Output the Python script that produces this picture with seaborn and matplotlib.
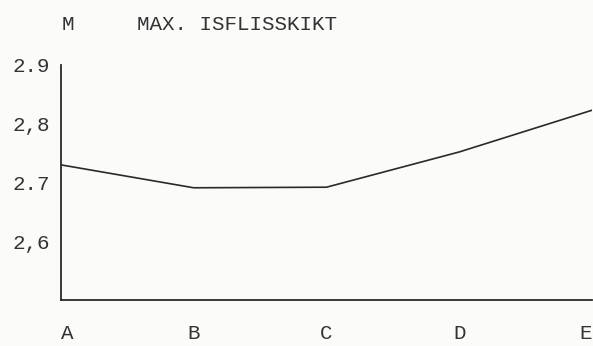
import matplotlib
matplotlib.use("Agg")
import matplotlib.pyplot as plt
import pandas as pd
import seaborn as sns

# data
stations = ["A", "B", "C", "D", "E"]
ice_thickness = [2.730, 2.691, 2.692, 2.752, 2.823]
ytick_values = [2.6, 2.7, 2.8, 2.9]
ytick_labels = ["2,6", "2.7", "2,8", "2.9"]

sns.set_style("white")
plt.rcParams["font.family"] = ["Liberation Mono", "DejaVu Sans Mono"]

df = pd.DataFrame({"pos": range(len(stations)), "m": ice_thickness})

fig = plt.figure(figsize=(5.93, 3.46), dpi=100, facecolor="#fbfbfa")
ax = fig.add_axes([61 / 593, 1 - 300 / 346, (592 - 61) / 593, (300 - 65) / 346])
ax.set_facecolor("#fbfbfa")

sns.lineplot(data=df, x="pos", y="m", color="#2a2a2a", linewidth=1.2, ax=ax)

ax.set_xlim(0, len(stations) - 1)
ax.set_ylim(2.5, 2.9)
ax.set_xticks(range(len(stations)))
ax.set_xticklabels(stations)
ax.set_yticks(ytick_values)
ax.set_yticklabels(ytick_labels)
ax.set_xlabel("")
ax.set_ylabel("")

for side in ["top", "right"]:
    ax.spines[side].set_visible(False)
for side in ["left", "bottom"]:
    ax.spines[side].set_color("#2a2a2a")
    ax.spines[side].set_linewidth(1.3)

ax.tick_params(axis="y", direction="in", length=5, width=1.2, colors="#2a2a2a",
               labelsize=15, pad=8, labelcolor="#333333")
ax.tick_params(axis="x", direction="inout", length=6, width=1.2, colors="#2a2a2a",
               labelsize=15, pad=14, labelcolor="#333333")

# first and last station labels sit inside the axis ends
xlabels = ax.get_xticklabels()
xlabels[0].set_ha("left")
xlabels[-1].set_ha("right")

fig.text(62 / 593, 1 - 25 / 346, "M", fontsize=15, color="#333333", va="center")
fig.text(137 / 593, 1 - 25 / 346, "MAX. ISFLISSKIKT", fontsize=15, color="#333333",
         va="center")

fig.savefig("out.png", dpi=100, facecolor=fig.get_facecolor())
